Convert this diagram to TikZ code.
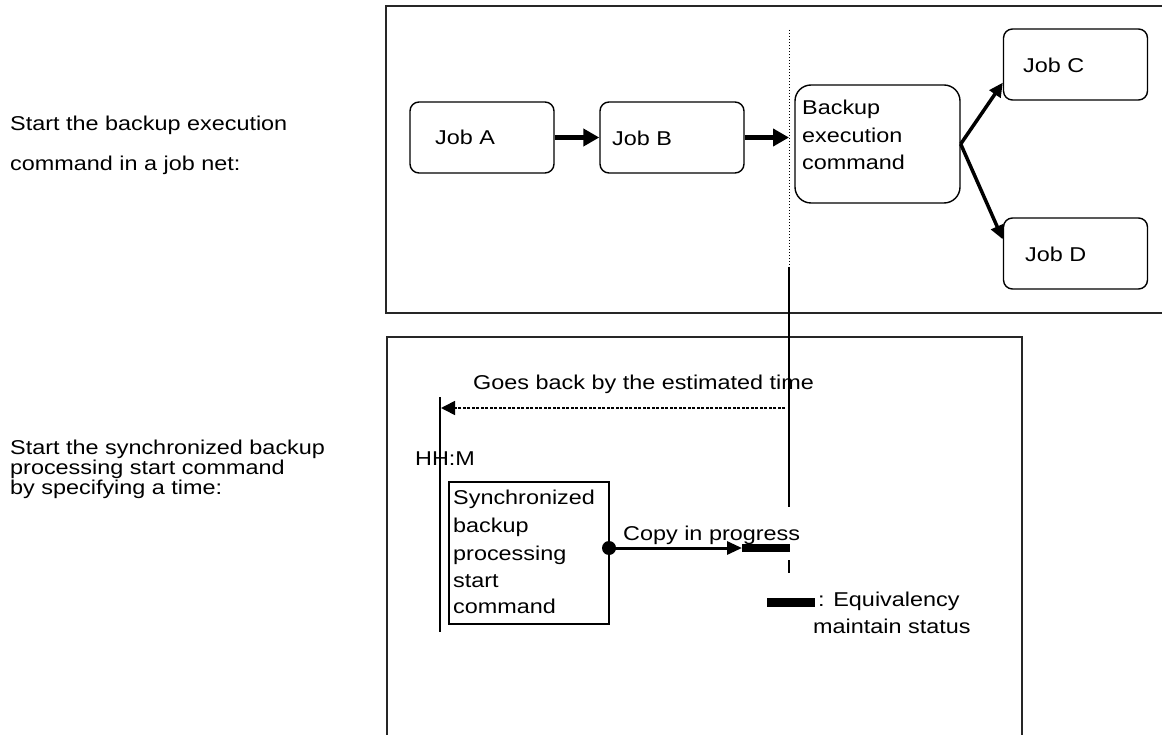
\documentclass[tikz,border=0pt]{standalone}
\usepackage{fontspec}
\setmainfont[FakeStretch=1.17]{Liberation Sans}
\usetikzlibrary{arrows.meta}
\begin{document}
\begin{tikzpicture}[x=1pt,y=-1pt,
  txt/.style={font=\fontsize{20}{24}\selectfont, inner sep=0pt, anchor=base west},
  frame/.style={draw=black!85, line width=2pt},
  jobbox/.style={draw, line width=1.4pt, rounded corners=9pt, minimum width=144pt, minimum height=71pt, inner sep=0pt},
  bigbox/.style={draw, line width=1.4pt, rounded corners=16pt, minimum width=165pt, minimum height=118pt, inner sep=0pt},
  syncbox/.style={draw, line width=1.4pt, minimum width=160pt, minimum height=142pt, inner sep=0pt},
  thickarrow/.style={line width=5pt, -{Triangle[length=16pt,width=17pt]}},
  midarrow/.style={line width=3.5pt, -{Triangle[length=14pt,width=13pt]}},
  backarrow/.style={line width=1.6pt, dash pattern=on 3pt off 1.5pt, -{Triangle[length=14pt,width=14pt]}},
  copyarrow/.style={line width=3pt, -{Triangle[length=15pt,width=13pt]}},
  statebar/.style={line width=9pt}
]
\useasboundingbox (0,0) rectangle (1162,735);
% frames
\draw[frame] (1175,6) -- (386,6) -- (386,313) -- (1175,313);
\draw[frame] (387,760) -- (387,337) -- (1022,337) -- (1022,760);

% left descriptions
\node[txt] (l1) at (10,131) {Start the backup execution};
\node[txt] (l2) at (10,171) {command in a job net:};
\node[txt] (l3) at (10,454) {Start the synchronized backup};
\node[txt] (l4) at (10,474) {processing start command};
\node[txt] (l5) at (10,494) {by specifying a time:};

% job net
\node[jobbox] (A) at (482,137.5) {};
\node[txt] (At) at (435,145) {Job A};
\node[jobbox] (B) at (672,137.5) {};
\node[txt] (Bt) at (612,146) {Job B};
\node[bigbox] (X) at (877.5,144) {};
\node[txt] (X1) at (802,115) {Backup};
\node[txt] (X2) at (802,143) {execution};
\node[txt] (X3) at (802,170) {command};
\node[jobbox] (C) at (1075.5,64.5) {};
\node[txt] (Ct) at (1023,73) {Job C};
\node[jobbox] (D) at (1075.5,253.5) {};
\node[txt] (Dt) at (1025,262) {Job D};

% time marker line
\coordinate (T0) at (789,30);
\coordinate (T1) at (789,267);
\coordinate (T2) at (789,507);
\draw[line width=1pt, dotted] (T0) -- (T1);
\draw[line width=1.5pt] (T1) -- (T2);

\draw[thickarrow] (A.east) -- (B.west);
\draw[thickarrow] (B.east) -- (B.east -| T0);
\draw[midarrow] (X.east) -- (C.194);
\draw[midarrow] (X.east) -- (D.169);

% lower panel
\node[txt] (G) at (473,389) {Goes back by the estimated time};
\coordinate (H0) at (440,397);
\coordinate (H1) at (440,632);
\draw[line width=2pt] (H0) -- (H1);
\coordinate (Bs) at (785,408);
\coordinate (Be) at (441,408);
\draw[backarrow] (Bs) -- (Be);
\node[txt] (HH) at (415,465) {HH:M};

\node[syncbox] (S) at (529,553) {};
\node[txt] (S1) at (453,504) {Synchronized};
\node[txt] (S2) at (453,532) {backup};
\node[txt] (S3) at (453,560) {processing};
\node[txt] (S4) at (453,587) {start};
\node[txt] (S5) at (453,613) {command};

\coordinate (cp) at (609,548);
\coordinate (ce) at (742,548);
\coordinate (cf) at (790,548);
\fill (cp) circle (7pt);
\draw[copyarrow] (cp) -- (ce);
\draw[line width=8pt] (ce) -- (cf);
\node[txt] (CP) at (623,540) {Copy in progress};
\coordinate (k0) at (789,560);
\coordinate (k1) at (789,573);
\draw[line width=1.5pt] (k0) -- (k1);

% legend
\coordinate (L0) at (767,602);
\coordinate (L1) at (815,602);
\draw[statebar] (L0) -- (L1);
\node[txt] (E1) at (818,606) {: Equivalency};
\node[txt] (E2) at (813,633) {maintain status};
\end{tikzpicture}
\end{document}
